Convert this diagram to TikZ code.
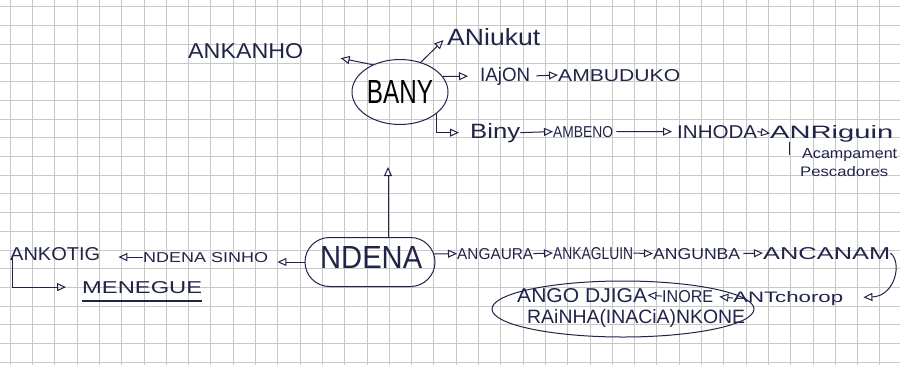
\documentclass[tikz,border=0pt]{standalone}
\usepackage{graphicx}
\usepackage{fontspec}
\setmainfont{Liberation Sans}
\usetikzlibrary{arrows.meta,shapes.geometric,shapes.misc,calc}
\definecolor{ink}{RGB}{32,36,72}
\definecolor{gridc}{RGB}{200,200,200}
\newcommand{\hw}[3]{\resizebox{#1pt}{#2pt}{#3}}
\begin{document}
\begin{tikzpicture}[x=1pt,y=-1pt,
  lbl/.style={inner sep=0pt, anchor=base west, text=ink},
  ell/.style={draw=ink, line width=1pt, ellipse, inner sep=0pt},
  stadium/.style={draw=ink, line width=1pt, rounded rectangle, inner sep=0pt},
  arr/.style={draw=ink, line width=1pt, -{Triangle[open, length=9pt, width=8pt, line width=1pt]}},
  ln/.style={draw=ink, line width=1pt},
  gridline/.style={draw=gridc, line width=0.5pt}]
\useasboundingbox (0,0) rectangle (900,365);
\fill[white] (0,0) rectangle (900,365);
\foreach \k in {0,...,39} \draw[gridline] ({10+22.3*\k},0) -- ({10+22.3*\k},365);
\foreach \k in {0,...,19} \draw[gridline] (0,{6.7+18.7*\k}) -- (900,{6.7+18.7*\k});

% upper cluster
\node[ell, minimum width=96pt, minimum height=65pt] (bany) at (400,92) {\hw{66}{23}{BANY}};
\node[lbl] (ankanho) at (188,58) {\hw{115}{15}{ANKANHO}};
\node[lbl] (aniukut) at (447,45) {\hw{93}{17}{ANiukut}};
\node[lbl] (iajon) at (480,81) {\hw{50}{14}{IAjON}};
\node[lbl] (ambuduko) at (558,81) {\hw{122}{12}{AMBUDUKO}};
\node[lbl] (biny) at (470,138) {\hw{50}{15}{Biny}};
\node[lbl] (ambeno) at (553,137) {\hw{60}{11}{AMBENO}};
\node[lbl] (inhoda) at (677,138) {\hw{80}{13}{INHODA}};
\node[lbl] (anriguin) at (770,138) {\hw{123}{13}{ANRiguin}};
\node[lbl] (acamp) at (802,158) {\hw{95}{10}{Acampament}};
\node[lbl] (pesc) at (800,176) {\hw{88}{10}{Pescadores}};

% lower cluster
\node[stadium, minimum width=130pt, minimum height=49pt] (ndena) at (370,262) {};
\node[lbl] (ndenatxt) at (320,268) {\hw{102}{22}{NDENA}};
\node[lbl] (ndenasinho) at (143,262) {\hw{125}{10}{NDENA SINHO}};
\node[lbl] (ankotig) at (10,260) {\hw{90}{13}{ANKOTIG}};
\node[lbl] (menegue) at (82,293) {\hw{120}{12}{MENEGUE}};
\node[lbl] (angaura) at (457,259) {\hw{76}{11}{ANGAURA}};
\node[lbl] (ankagluin) at (553,259) {\hw{80}{12}{ANKAGLUIN}};
\node[lbl] (angunba) at (653,259) {\hw{87}{11}{ANGUNBA}};
\node[lbl] (ancanam) at (763,259) {\hw{127}{12}{ANCANAM}};
\node[lbl] (angodjiga) at (517,302) {\hw{130}{14}{ANGO DJIGA}};
\node[lbl] (inore) at (662,302) {\hw{51}{12}{INORE}};
\node[lbl] (antchorop) at (733,302) {\hw{110}{11}{ANTchorop}};
\node[lbl] (rainha) at (527,323) {\hw{218}{14}{RAiNHA(INACiA)NKONE}};
\node[ell, minimum width=262pt, minimum height=56pt] (loop) at (623,309) {};

% connectors, upper
\draw[arr, shorten >=38pt] (bany.135) -- (ankanho.east);
\draw[arr, shorten >=5pt] (bany.55) -- (aniukut.west);
\draw[arr, shorten >=12pt] (bany.20) -- (iajon.west);
\draw[arr, shorten <=6pt] (iajon.east) -- (ambuduko.west);
\draw[arr, shorten >=11pt] (bany.-30) |- (biny.west);
\draw[arr] (biny.east) -- (ambeno.west);
\draw[arr, shorten <=3pt, shorten >=5pt] (ambeno.east) -- (inhoda.west);
\draw[arr] (inhoda.east) -- (anriguin.west);
\draw[ln] ($(anriguin.base west)+(19,4)$) -- ($(anriguin.base west)+(19,17)$);

% connectors, lower
\coordinate (nup) at ($(ndena.north)+(18,0)$);
\draw[arr, shorten >=42pt] (nup) -- (nup |- bany.south);
\draw[arr, shorten >=9pt] (ndena.west) -- (ndena.west -| ndenasinho.east);
\draw[arr, shorten >=18pt] (ndenasinho.west) -- (ndenasinho.west -| ankotig.east);
\draw[arr, shorten >=16pt] ($(ankotig.base west)+(2,-2)$) |- (menegue.west);
\draw[draw=ink, line width=1.8pt] ($(menegue.base west)+(0,8)$) -- ($(menegue.base east)+(0,8)$);
\draw[arr] ($(ndena.east)+(-2,-8)$) -- (angaura.west);
\draw[arr] (angaura.east) -- (ankagluin.west);
\draw[arr] (ankagluin.east) -- (angunba.west);
\draw[arr, shorten <=3pt] (angunba.east) -- (ancanam.west);
\draw[arr, shorten >=20pt] (ancanam.east) .. controls +(12,9) and +(52,-2) .. (antchorop.east);
\draw[arr, shorten >=6pt] (antchorop.west) -- (inore.east);
\draw[arr] (inore.west) -- (angodjiga.east);
\end{tikzpicture}
\end{document}
